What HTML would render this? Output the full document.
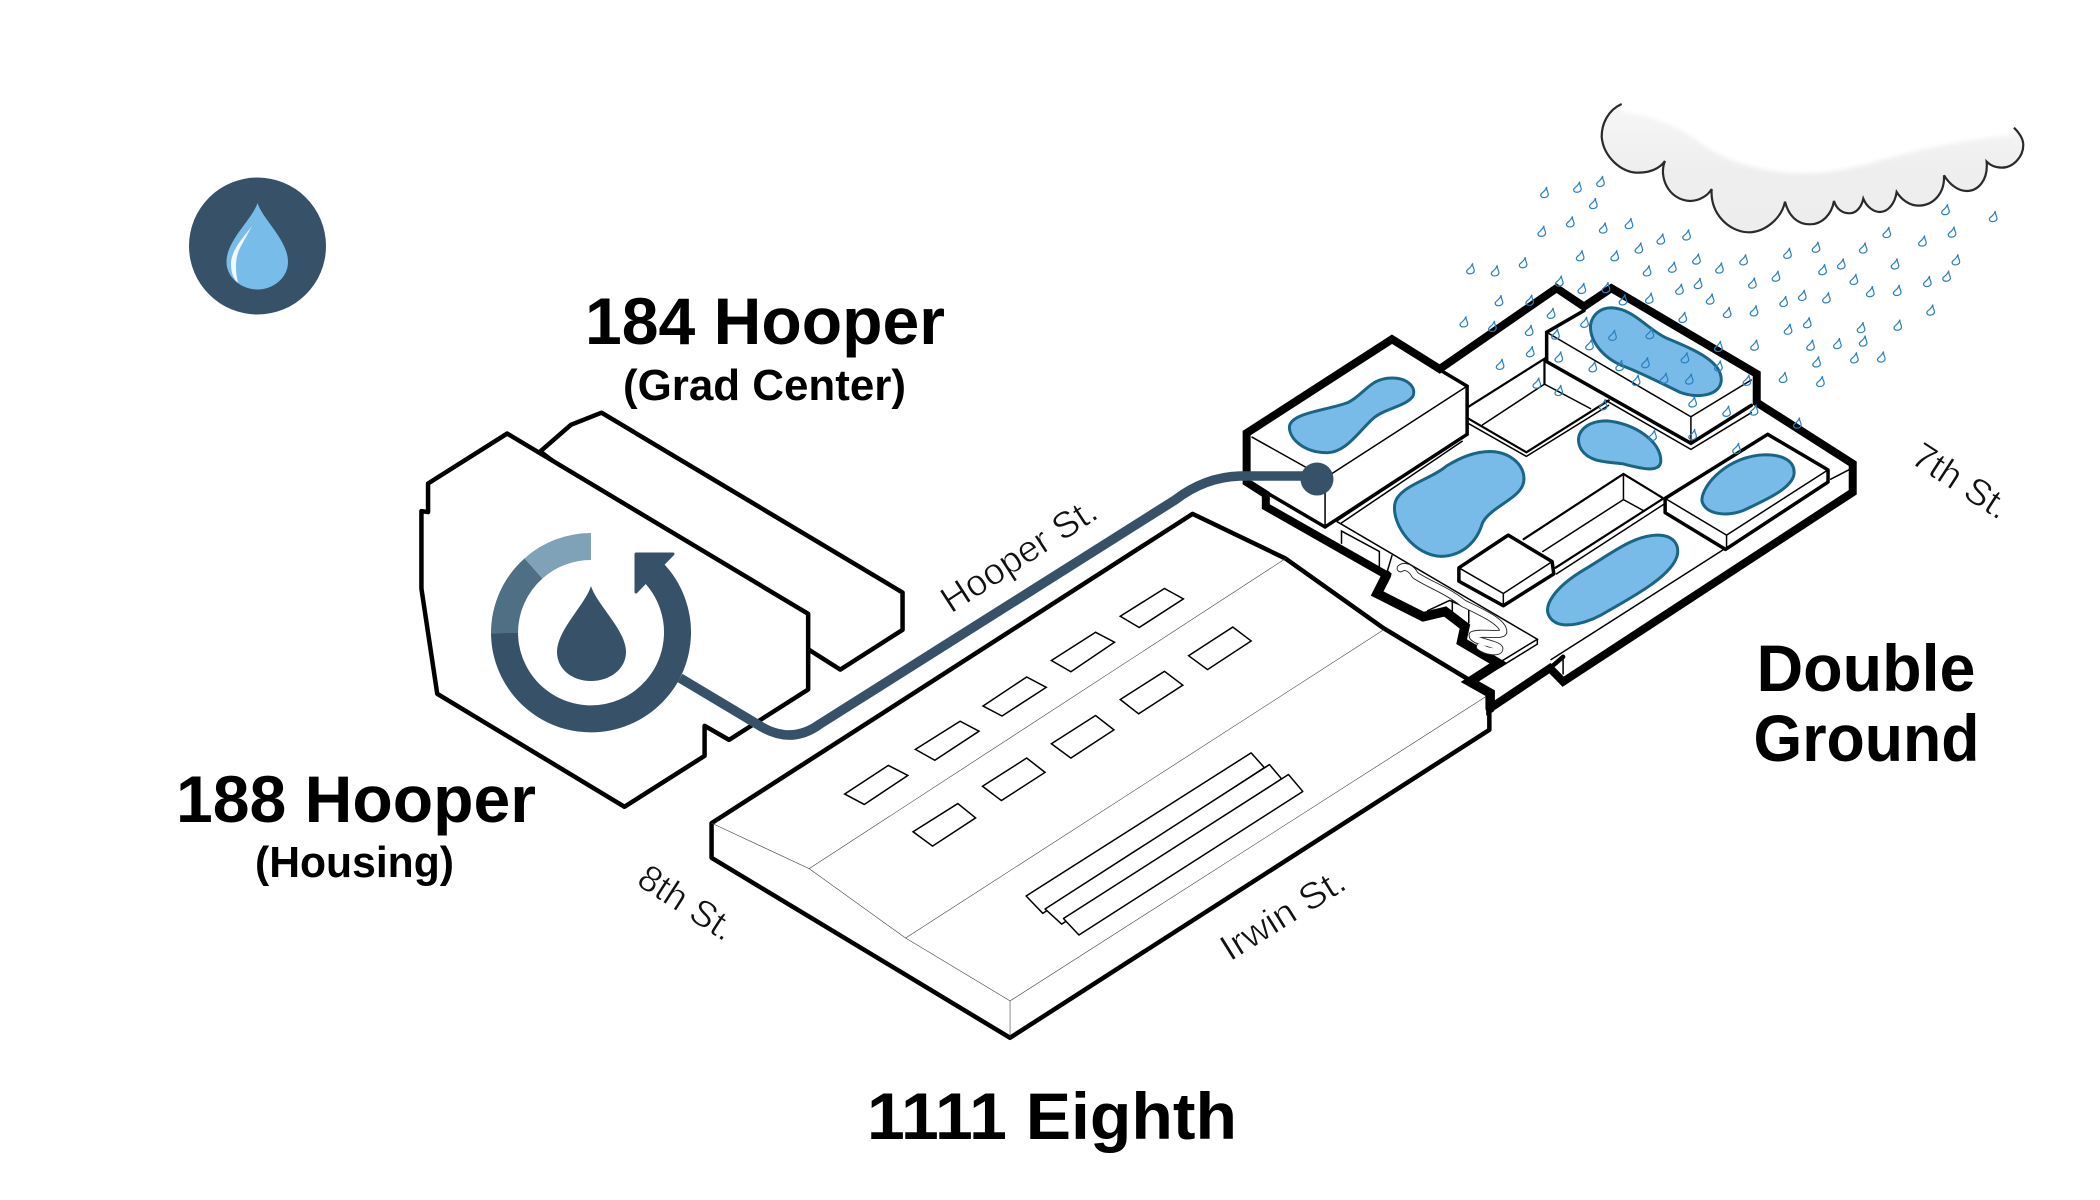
<!DOCTYPE html>
<html><head><meta charset="utf-8"><title>Double Ground</title>
<style>
html,body{margin:0;padding:0;background:#fff}
svg{display:block}
path,polygon,polyline,line,circle,ellipse{vector-effect:non-scaling-stroke}
.k{fill:none;stroke:#000;stroke-linejoin:miter;stroke-linecap:round}
.w{fill:#fff;stroke:#000;stroke-linejoin:round;stroke-linecap:round}
.t1{stroke-width:1.5}.t0{stroke-width:.6;stroke:#444}.t2{stroke-width:2.2}.t3{stroke-width:3.5}.t4{stroke-width:4.5}.t5{stroke-width:5.5}.t8{stroke-width:8}.t9{stroke-width:9.5}
.pond{fill:#78bbe8;stroke:#1a6584;stroke-width:3}
.lab{font-family:"Liberation Sans",sans-serif;font-weight:700;fill:#000}
.st{font-family:"Liberation Sans",sans-serif;font-size:37px;fill:#111;stroke:#fff;stroke-width:.7px;paint-order:normal}
</style></head><body>
<svg width="2100" height="1200" viewBox="0 0 2100 1200" xmlns="http://www.w3.org/2000/svg">
<defs>
<linearGradient id="cg" x1="0" y1="0" x2="0" y2="1"><stop offset="0" stop-color="#f6f6f6"/><stop offset=".55" stop-color="#eeeeee"/><stop offset="1" stop-color="#ededed"/></linearGradient>
<filter id="bl" x="-10%" y="-30%" width="120%" height="160%"><feGaussianBlur stdDeviation="6"/></filter>
<clipPath id="cc"><path d="M65,42 C25,60 5,100 5,140 C10,200 65,250 115,248 C150,248 180,235 195,213 C175,260 205,330 270,333 C300,333 325,315 335,297 C330,370 385,425 445,427 C495,427 545,385 555,335 C565,375 590,403 630,403 C665,403 695,375 702,333 C710,360 730,370 748,370 C770,370 785,350 790,326 C800,350 820,366 840,366 C865,366 885,340 890,306 C905,330 930,347 955,347 C1000,347 1035,310 1032,256 C1050,285 1075,303 1100,303 C1135,303 1165,270 1160,215 C1175,230 1190,233 1205,233 C1240,233 1270,200 1270,165 C1270,145 1255,125 1242,113 C1100,125 980,150 850,185 C750,215 650,235 560,225 C450,215 370,180 320,145 C250,90 160,55 65,42Z"/></clipPath>
<path id="d" d="M4,-13 C3,-5 7,-1 7,5 C7,10 3,13 -1,13 C-6,13 -8,8 -6,4 C-4,0 1,-1 4,-13Z" fill="none" stroke="#2a7fc0" stroke-width="1.2"/>
</defs>

<!-- badge -->
<circle cx="257.5" cy="246" r="68.5" fill="#375268"/>
<path d="M257.5,203 C263,220 288,240 288,262 C288,278 273,289.5 257.5,289.5 C242,289.5 226.5,278 226.5,262 C226.5,240 252,220 257.5,203Z" fill="#78bce9"/>
<path d="M252,226 C243,238 231,250 231,264 C231,272 233,278 238,283 C235,270 235,258 240,248Z" fill="#fff" opacity=".9"/>

<!-- buildings left (zoom2 coords) -->
<g transform="translate(150,150) scale(.5102,.4847)">
<polygon class="w t4" points="765,622 825,567 885,542 1475,913 1475,990 1353,1072 1200,970"/>
<polygon class="w t4" points="700,585 1290,957 1290,1113 1135,1217 1087,1188 1087,1250 930,1355 563,1122 532,905 532,745 545,747 545,688"/>
</g>

<!-- ring -->
<g fill="none" stroke-width="27">
<path d="M652,571 A86.5,86.5 0 1 1 504.5,633" stroke="#375268"/>
<path d="M504.5,633 A86.5,86.5 0 0 1 533.5,568.4" stroke="#4f6f84"/>
<path d="M533.5,568.4 A86.5,86.5 0 0 1 591,546.5" stroke="#7fa2b8"/>
</g>
<polygon points="636,554 673,554 636,592" fill="#375268" stroke="#375268" stroke-width="3" stroke-linejoin="round"/>
<path d="M591,586 C597,605 626,630 626,652 C626,669 610,681 591,681 C572,681 557,669 557,652 C557,630 585,605 591,586Z" fill="#375268"/>

<!-- 1111 Eighth site (zoom3 coords) -->
<g transform="translate(680,500) scale(.574,.4337)">
<polygon class="w t4" points="55,745 893,32 1055,135 1225,295 1375,415 1410,450 1410,530 575,1240 55,825"/>
<polyline class="k t0" points="55,745 225,850 1055,135"/>
<polyline class="k t0" points="225,850 393,1010 1225,300"/>
<polyline class="k t0" points="393,1010 575,1155 1408,450"/>
<line class="k t0" x1="575" y1="1155" x2="575" y2="1240"/>
<polygon class="k t1" points="287,678 363,612 397,635 321,702"/>
<polygon class="k t1" points="410,575 488,510 521,533 444,600"/>
<polygon class="k t1" points="528,475 604,408 638,432 561,498"/>
<polygon class="k t1" points="647,370 724,305 757,328 681,396"/>
<polygon class="k t1" points="767,268 844,204 877,228 800,294"/>
<polygon class="k t1" points="406,765 484,700 515,733 440,798"/>
<polygon class="k t1" points="527,660 604,595 636,628 560,693"/>
<polygon class="k t1" points="647,562 724,497 756,530 681,595"/>
<polygon class="k t1" points="767,460 844,395 876,427 799,493"/>
<polygon class="k t1" points="886,359 963,293 995,325 919,391"/>
<polygon class="w t1" points="603,913 995,583 1018,617 632,953"/>
<polygon class="w t1" points="636,943 1027,610 1048,643 665,978"/>
<polygon class="w t1" points="668,965 1060,633 1085,672 695,1003"/>
</g>

<!-- Double Ground (zoom1 coords) -->
<g transform="translate(1200,80) scale(.5485,.4082)">
<polygon class="w t8" style="stroke-linejoin:miter" points="85,865 350,635 437,708 650,510 700,555 750,510 1015,720 1015,790 1190,940 1190,1010 662,1474 638,1441 529,1539 529,1502 492,1474 544,1429 477,1376 483,1339 447,1302 407,1315 323,1258 340,1213 120,1045 120,1015 85,985"/>
<polyline class="k t9" points="529,1539 529,1502 492,1474 544,1429 477,1376 483,1339 447,1302 407,1315 323,1258 340,1213"/>
<line class="k t4" x1="638" y1="1441" x2="662" y2="1413"/>
<!-- left tall building -->
<polyline class="k t1" points="95,875 228,975 487,750"/>
<polyline class="k t3" points="350,640 487,750 487,868 228,1095 95,990"/>
<line class="k t1" x1="228" y1="975" x2="228" y2="1095"/>
<!-- courtyard upper -->
<polyline class="k t2" points="490,800 628,683 628,745"/>
<polyline class="k t1" points="515,845 628,745 712,805"/>
<polyline class="k t2" points="490,830 595,912 745,785"/>
<polyline class="k t1" points="490,842 595,922 745,797"/>
<!-- top-right pond building -->
<polyline class="k t3" points="700,565 632,618 632,690"/>
<polyline class="k t1" points="632,618 895,825 1005,735"/>
<line class="k t1" x1="895" y1="825" x2="895" y2="890"/>
<polyline class="k t3" points="632,690 895,890 1005,797"/>
<polyline class="k t1" points="740,785 895,905 1005,815"/>
<!-- right small building -->
<polygon class="w t3" points="848,1025 1035,868 1145,955 1145,985 958,1150 848,1060"/>
<polyline class="k t1" points="848,1025 960,1115 1145,955"/>
<line class="k t1" x1="960" y1="1115" x2="960" y2="1145"/>
<line class="k t1" x1="1150" y1="978" x2="1190" y2="950"/>
<!-- trough -->
<polyline class="k t2" points="590,1125 772,965 845,1025 648,1195"/>
<polyline class="k t1" points="772,965 772,1028 625,1155"/>
<line class="k t1" x1="772" y1="1028" x2="810" y2="1056"/>
<line class="k t1" x1="845" y1="1040" x2="650" y2="1210"/>
<!-- small block -->
<polygon class="w t3" points="472,1195 562,1115 642,1180 645,1210 553,1288 472,1228"/>
<polyline class="k t1" points="472,1195 553,1258 642,1180"/>
<line class="k t1" x1="553" y1="1258" x2="553" y2="1288"/>
<!-- walk -->
<polyline class="k t1" points="258,1085 478,885"/>
<polyline class="k t1" points="250,1080 478,875"/>
<polyline class="k t1" points="250,1082 615,1370 530,1440"/>
<polyline class="k t1" points="615,1370 615,1382 545,1440"/>
<polyline class="k t1" points="258,1135 258,1105 327,1155 327,1195"/>
<line class="k t1" x1="350" y1="1165" x2="340" y2="1210"/>
<polyline class="k t1" points="955,1150 640,1420"/>
<line class="k t1" x1="662" y1="1420" x2="662" y2="1455"/>
<polyline class="k t1" points="415,1300 455,1275 490,1295 490,1330"/>
<line class="k t1" x1="460" y1="1275" x2="460" y2="1315"/>
<!-- ponds -->
<path class="pond" d="M350,730 C380,730 395,755 388,775 C375,800 335,805 315,830 C290,860 265,915 230,913 C190,912 163,880 163,850 C165,815 230,810 270,790 C300,770 310,730 350,730Z"/>
<path class="pond" d="M750,558 C790,560 815,610 850,632 C900,660 955,690 950,740 C945,775 905,780 875,765 C845,745 800,715 770,700 C735,680 710,640 712,600 C715,575 730,558 750,558Z"/>
<path class="pond" d="M742,835 C790,840 842,885 840,935 C838,965 800,950 770,940 C735,935 710,935 695,905 C680,870 700,835 742,835Z"/>
<path class="pond" d="M530,910 C570,912 595,950 590,985 C585,1025 530,1045 515,1085 C505,1130 480,1165 440,1167 C390,1165 350,1090 355,1040 C360,995 420,980 450,945 C475,925 500,910 530,910Z"/>
<path class="pond" d="M1030,918 C1065,918 1085,935 1083,965 C1080,1000 1030,1030 990,1055 C960,1070 920,1065 915,1030 C915,990 965,920 1030,918Z"/>
<path class="pond" d="M835,1115 C860,1115 875,1135 870,1165 C860,1215 790,1265 745,1300 C710,1330 660,1350 640,1320 C620,1290 650,1240 700,1200 C750,1160 790,1115 835,1115Z"/>
</g>

<!-- squiggle (zoom4 coords) -->
<g transform="translate(1340,500) scale(.3333)" fill="none" stroke-linecap="round" stroke-linejoin="round">
<path d="M182,205 C195,195 215,205 225,225 C260,250 320,270 370,310 C420,335 490,365 490,395 C490,410 420,395 398,405 C395,425 470,430 478,445 C480,460 440,455 420,440" stroke="#222" stroke-width="24" style="vector-effect:none"/>
<path d="M182,205 C195,195 215,205 225,225 C260,250 320,270 370,310 C420,335 490,365 490,395 C490,410 420,395 398,405 C395,425 470,430 478,445 C480,460 440,455 420,440" stroke="#fff" stroke-width="18.5" style="vector-effect:none"/>
</g>

<!-- cloud (zoom5 coords) -->
<g transform="translate(1600,90) scale(.3333)">
<path d="M65,42 C25,60 5,100 5,140 C10,200 65,250 115,248 C150,248 180,235 195,213 C175,260 205,330 270,333 C300,333 325,315 335,297 C330,370 385,425 445,427 C495,427 545,385 555,335 C565,375 590,403 630,403 C665,403 695,375 702,333 C710,360 730,370 748,370 C770,370 785,350 790,326 C800,350 820,366 840,366 C865,366 885,340 890,306 C905,330 930,347 955,347 C1000,347 1035,310 1032,256 C1050,285 1075,303 1100,303 C1135,303 1165,270 1160,215 C1175,230 1190,233 1205,233 C1240,233 1270,200 1270,165 C1270,145 1255,125 1242,113 C1100,125 980,150 850,185 C750,215 650,235 560,225 C450,215 370,180 320,145 C250,90 160,55 65,42Z" fill="url(#cg)"/>
<g clip-path="url(#cc)"><path d="M1242,113 C1100,125 980,150 850,185 C750,215 650,235 560,225 C450,215 370,180 320,145 C250,90 160,55 65,42" fill="none" stroke="#fff" stroke-width="45" style="vector-effect:none" filter="url(#bl)"/></g>
<path d="M65,42 C25,60 5,100 5,140 C10,200 65,250 115,248 C150,248 180,235 195,213 C175,260 205,330 270,333 C300,333 325,315 335,297 C330,370 385,425 445,427 C495,427 545,385 555,335 C565,375 590,403 630,403 C665,403 695,375 702,333 C710,360 730,370 748,370 C770,370 785,350 790,326 C800,350 820,366 840,366 C865,366 885,340 890,306 C905,330 930,347 955,347 C1000,347 1035,310 1032,256 C1050,285 1075,303 1100,303 C1135,303 1165,270 1160,215 C1175,230 1190,233 1205,233 C1240,233 1270,200 1270,165 C1270,145 1255,125 1242,113" fill="none" stroke="#2a2a2a" stroke-width="2.2"/>
</g>

<!-- pipe -->
<path d="M680,678 L757,724 Q790,746 820,724 L1175,500 Q1205,477 1240,476 L1317,476" fill="none" stroke="#375268" stroke-width="9.5"/>
<circle cx="1317" cy="479" r="16.5" fill="#375268"/>

<!-- rain (zoom1 coords) -->
<g transform="translate(1200,80) scale(.5485,.4082)">
<use href="#d" x="628" y="275"/><use href="#d" x="688" y="262"/><use href="#d" x="730" y="248"/><use href="#d" x="717" y="302"/><use href="#d" x="623" y="370"/><use href="#d" x="675" y="347"/><use href="#d" x="735" y="362"/><use href="#d" x="782" y="351"/><use href="#d" x="840" y="389"/><use href="#d" x="887" y="379"/><use href="#d" x="693" y="430"/><use href="#d" x="756" y="430"/><use href="#d" x="800" y="411"/><use href="#d" x="905" y="438"/><use href="#d" x="947" y="460"/><use href="#d" x="991" y="440"/><use href="#d" x="1071" y="424"/><use href="#d" x="1123" y="409"/><use href="#d" x="1209" y="411"/><use href="#d" x="1252" y="373"/><use href="#d" x="1317" y="394"/><use href="#d" x="1371" y="372"/><use href="#d" x="1359" y="317"/><use href="#d" x="1446" y="334"/>
<use href="#d" x="493" y="462"/><use href="#d" x="538" y="467"/><use href="#d" x="589" y="447"/><use href="#d" x="815" y="467"/><use href="#d" x="861" y="458"/><use href="#d" x="1135" y="464"/><use href="#d" x="1169" y="450"/><use href="#d" x="1267" y="450"/><use href="#d" x="1378" y="440"/><use href="#d" x="1050" y="480"/><use href="#d" x="1192" y="488"/><use href="#d" x="1007" y="497"/><use href="#d" x="908" y="498"/><use href="#d" x="874" y="512"/><use href="#d" x="1326" y="493"/><use href="#d" x="1361" y="480"/><use href="#d" x="1222" y="518"/><use href="#d" x="1271" y="515"/>
<use href="#d" x="655" y="492"/><use href="#d" x="696" y="510"/><use href="#d" x="740" y="508"/><use href="#d" x="771" y="538"/><use href="#d" x="819" y="534"/><use href="#d" x="545" y="540"/><use href="#d" x="601" y="539"/><use href="#d" x="930" y="536"/><use href="#d" x="1098" y="527"/><use href="#d" x="1142" y="533"/><use href="#d" x="1064" y="542"/><use href="#d" x="961" y="569"/><use href="#d" x="1010" y="565"/><use href="#d" x="1332" y="563"/>
<use href="#d" x="640" y="571"/><use href="#d" x="481" y="592"/><use href="#d" x="533" y="603"/><use href="#d" x="600" y="613"/><use href="#d" x="701" y="593"/><use href="#d" x="880" y="581"/><use href="#d" x="1072" y="610"/><use href="#d" x="1107" y="594"/><use href="#d" x="1205" y="606"/><use href="#d" x="1272" y="600"/>
<use href="#d" x="648" y="622"/><use href="#d" x="752" y="625"/><use href="#d" x="820" y="621"/><use href="#d" x="710" y="648"/><use href="#d" x="602" y="665"/><use href="#d" x="654" y="678"/><use href="#d" x="945" y="652"/><use href="#d" x="1011" y="649"/><use href="#d" x="1113" y="649"/><use href="#d" x="1162" y="645"/><use href="#d" x="1209" y="639"/>
<use href="#d" x="547" y="696"/><use href="#d" x="716" y="702"/><use href="#d" x="765" y="699"/><use href="#d" x="812" y="692"/><use href="#d" x="884" y="680"/><use href="#d" x="945" y="700"/><use href="#d" x="1124" y="690"/><use href="#d" x="1193" y="680"/><use href="#d" x="1242" y="678"/>
<use href="#d" x="614" y="742"/><use href="#d" x="654" y="760"/><use href="#d" x="795" y="735"/><use href="#d" x="846" y="730"/><use href="#d" x="892" y="732"/><use href="#d" x="997" y="735"/><use href="#d" x="1063" y="728"/><use href="#d" x="1131" y="738"/>
<use href="#d" x="735" y="795"/><use href="#d" x="898" y="788"/><use href="#d" x="960" y="811"/><use href="#d" x="1010" y="808"/><use href="#d" x="825" y="870"/><use href="#d" x="1089" y="840"/><use href="#d" x="898" y="868"/><use href="#d" x="978" y="902"/>
</g>

<!-- labels -->
<text class="lab" x="585" y="344" font-size="66" textLength="360" lengthAdjust="spacingAndGlyphs">184 Hooper</text>
<text class="lab" x="623" y="400" font-size="44" textLength="283" lengthAdjust="spacingAndGlyphs">(Grad Center)</text>
<text class="lab" x="176" y="822" font-size="66" textLength="360" lengthAdjust="spacingAndGlyphs">188 Hooper</text>
<text class="lab" x="255" y="877" font-size="44" textLength="199" lengthAdjust="spacingAndGlyphs">(Housing)</text>
<text class="lab" x="867" y="1139" font-size="66" textLength="370" lengthAdjust="spacingAndGlyphs">1111 Eighth</text>
<text class="lab" x="1756.5" y="691" font-size="66" textLength="219" lengthAdjust="spacingAndGlyphs">Double</text>
<text class="lab" x="1753.5" y="761" font-size="66" textLength="226" lengthAdjust="spacingAndGlyphs">Ground</text>
<text class="st" transform="translate(951,614) rotate(-33)" textLength="178" lengthAdjust="spacingAndGlyphs">Hooper St.</text>
<text class="st" transform="translate(1230,962) rotate(-32)" textLength="140" lengthAdjust="spacingAndGlyphs">Irwin St.</text>
<text class="st" transform="translate(635,884) rotate(33)" textLength="107" lengthAdjust="spacingAndGlyphs">8th St.</text>
<text class="st" transform="translate(1909,462) rotate(33)" textLength="108" lengthAdjust="spacingAndGlyphs">7th St.</text>
</svg>
</body></html>
